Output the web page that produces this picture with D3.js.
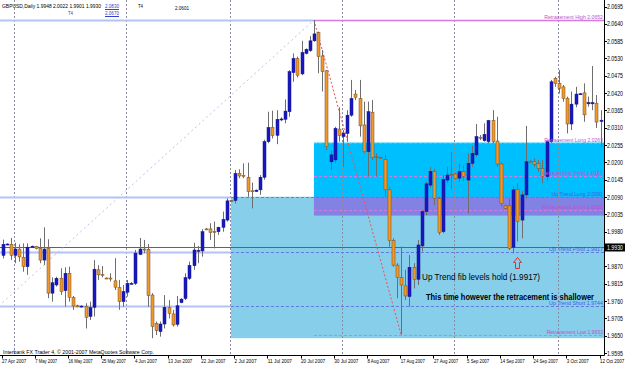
<!DOCTYPE html>
<html>
<head>
<meta charset="utf-8">
<script src="https://cdn.jsdelivr.net/npm/d3@7"></script>
<style>
  body { margin: 0; background: #fff; }
  svg { display: block; }
  text { font-family: "Liberation Sans", Arial, sans-serif; }
</style>
</head>
<body>
<svg width="625" height="365"></svg>
<script>
// Daily bars (MT4 also prints a short Sunday bar)
const dates = [
  "2007-04-27","2007-04-29","2007-04-30","2007-05-01","2007-05-02","2007-05-03","2007-05-04","2007-05-06",
  "2007-05-07","2007-05-08","2007-05-09","2007-05-10","2007-05-11","2007-05-13","2007-05-14","2007-05-15",
  "2007-05-16","2007-05-17","2007-05-18","2007-05-20","2007-05-21","2007-05-22","2007-05-23","2007-05-24",
  "2007-05-25","2007-05-27","2007-05-28","2007-05-29","2007-05-30","2007-05-31","2007-06-01","2007-06-03",
  "2007-06-04","2007-06-05","2007-06-06","2007-06-07","2007-06-08","2007-06-10","2007-06-11","2007-06-12",
  "2007-06-13","2007-06-14","2007-06-15","2007-06-17","2007-06-18","2007-06-19","2007-06-20","2007-06-21",
  "2007-06-22","2007-06-24","2007-06-25","2007-06-26","2007-06-27","2007-06-28","2007-06-29","2007-07-01",
  "2007-07-02","2007-07-03","2007-07-04","2007-07-05","2007-07-06","2007-07-08","2007-07-09","2007-07-10",
  "2007-07-11","2007-07-12","2007-07-13","2007-07-15","2007-07-16","2007-07-17","2007-07-18","2007-07-19",
  "2007-07-20","2007-07-22","2007-07-23","2007-07-24","2007-07-25","2007-07-26","2007-07-27","2007-07-29",
  "2007-07-30","2007-07-31","2007-08-01","2007-08-02","2007-08-03","2007-08-05","2007-08-06","2007-08-07",
  "2007-08-08","2007-08-09","2007-08-10","2007-08-12","2007-08-13","2007-08-14","2007-08-15","2007-08-16",
  "2007-08-17","2007-08-19","2007-08-20","2007-08-21","2007-08-22","2007-08-23","2007-08-24","2007-08-26",
  "2007-08-27","2007-08-28","2007-08-29","2007-08-30","2007-08-31","2007-09-02","2007-09-03","2007-09-04",
  "2007-09-05","2007-09-06","2007-09-07","2007-09-09","2007-09-10","2007-09-11","2007-09-12","2007-09-13",
  "2007-09-14","2007-09-16","2007-09-17","2007-09-18","2007-09-19","2007-09-20","2007-09-21","2007-09-23",
  "2007-09-24","2007-09-25","2007-09-26","2007-09-27","2007-09-28","2007-09-30","2007-10-01","2007-10-02",
  "2007-10-03","2007-10-04","2007-10-05","2007-10-07","2007-10-08","2007-10-09","2007-10-10","2007-10-11",
  "2007-10-12"
];
const opens = [
  1.9905,1.9940,1.9940,1.9905,1.9925,1.9899,1.9869,1.9933,1.9933,1.9927,1.9890,1.9927,1.9785,1.9811,1.9832,1.9793,
  1.9848,1.9771,1.9745,1.9743,1.9742,1.9711,1.9740,1.9859,1.9844,1.9833,1.9833,1.9824,1.9803,1.9758,1.9788,1.9815,
  1.9816,1.9908,1.9925,1.9924,1.9779,1.9689,1.9663,1.9687,1.9739,1.9719,1.9686,1.9755,1.9768,1.9832,1.9872,1.9920,
  1.9919,1.9989,1.9989,1.9981,1.9980,1.9994,2.0017,2.0079,2.0079,2.0165,2.0159,2.0152,2.0110,2.0108,2.0113,2.0153,
  2.0266,2.0311,2.0286,2.0337,2.0337,2.0361,2.0485,2.0530,2.0481,2.0546,2.0555,2.0586,2.0612,2.0538,2.0491,2.0202,
  2.0208,2.0306,2.0282,2.0292,2.0350,2.0417,2.0403,2.0319,2.0234,2.0358,2.0219,2.0215,2.0210,2.0113,1.9952,1.9874,
  1.9835,1.9808,1.9774,1.9867,1.9829,1.9935,2.0044,2.0128,2.0172,2.0086,1.9980,2.0144,2.0161,2.0163,2.0150,2.0171,
  2.0144,2.0197,2.0224,2.0280,2.0269,2.0266,2.0333,2.0268,2.0195,2.0062,2.0062,1.9931,2.0115,2.0017,2.0097,2.0204,
  2.0202,2.0197,2.0181,2.0155,2.0266,2.0467,2.0451,2.0440,2.0403,2.0322,2.0385,2.0417,2.0421,2.0386,2.0386,2.0388,
  2.0330
];
const highs = [
  1.9955,1.9943,1.9960,1.9945,1.9940,1.9943,1.9943,1.9936,1.9935,1.9959,1.9994,1.9956,1.9835,1.9837,1.9864,1.9867,
  1.9869,1.9776,1.9748,1.9746,1.9753,1.9758,1.9890,1.9874,1.9871,1.9835,1.9848,1.9896,1.9827,1.9811,1.9827,1.9820,
  1.9922,1.9960,1.9954,1.9941,1.9785,1.9695,1.9695,1.9779,1.9763,1.9732,1.9776,1.9769,1.9848,1.9885,1.9945,1.9935,
  1.9988,1.9992,2.0007,2.0012,1.9996,2.0044,2.0086,2.0080,2.0176,2.0178,2.0197,2.0199,2.0136,2.0114,2.0160,2.0272,
  2.0361,2.0364,2.0366,2.0343,2.0400,2.0493,2.0546,2.0536,2.0586,2.0562,2.0601,2.0652,2.0615,2.0557,2.0493,2.0239,
  2.0313,2.0375,2.0303,2.0366,2.0462,2.0430,2.0462,2.0393,2.0393,2.0398,2.0229,2.0218,2.0224,2.0123,1.9959,1.9880,
  1.9933,1.9859,1.9906,1.9880,1.9954,2.0049,2.0139,2.0186,2.0180,2.0091,2.0160,2.0186,2.0234,2.0166,2.0197,2.0190,
  2.0229,2.0252,2.0322,2.0287,2.0324,2.0335,2.0366,2.0345,2.0200,2.0066,2.0086,2.0123,2.0134,2.0110,2.0316,2.0207,
  2.0213,2.0208,2.0208,2.0270,2.0462,2.0472,2.0493,2.0446,2.0409,2.0425,2.0440,2.0420,2.0451,2.0409,2.0506,2.0414,
  2.0366
];
const lows = [
  1.9895,1.9937,1.9890,1.9880,1.9885,1.9853,1.9843,1.9931,1.9924,1.9880,1.9874,1.9769,1.9758,1.9806,1.9779,1.9742,
  1.9758,1.9732,1.9740,1.9740,1.9673,1.9700,1.9711,1.9827,1.9835,1.9830,1.9822,1.9795,1.9732,1.9742,1.9774,1.9813,
  1.9811,1.9906,1.9912,1.9742,1.9642,1.9652,1.9647,1.9673,1.9705,1.9679,1.9679,1.9753,1.9763,1.9827,1.9859,1.9880,
  1.9901,1.9985,1.9954,1.9927,1.9970,1.9980,2.0012,2.0074,2.0070,2.0150,2.0150,2.0091,2.0054,2.0106,2.0097,2.0145,
  2.0261,2.0276,2.0258,2.0331,2.0324,2.0345,2.0456,2.0470,2.0477,2.0543,2.0551,2.0583,2.0483,2.0425,2.0239,2.0176,
  2.0197,2.0266,2.0186,2.0266,2.0345,2.0398,2.0282,2.0229,2.0155,2.0208,2.0155,2.0211,2.0091,1.9933,1.9869,1.9769,
  1.9653,1.9763,1.9742,1.9800,1.9811,1.9917,2.0033,2.0120,2.0065,1.9970,1.9975,2.0134,2.0113,2.0146,2.0139,2.0140,
  2.0038,2.0186,2.0218,2.0271,2.0266,2.0261,2.0261,2.0186,2.0060,2.0050,1.9922,1.9911,1.9949,1.9959,2.0086,2.0200,
  2.0186,2.0170,2.0134,2.0140,2.0261,2.0440,2.0419,2.0393,2.0292,2.0303,2.0375,2.0414,2.0329,2.0377,2.0366,2.0309,
  2.0249
];
const closes = [
  1.9940,1.9941,1.9905,1.9925,1.9900,1.9869,1.9931,1.9934,1.9926,1.9890,1.9925,1.9785,1.9818,1.9832,1.9790,1.9848,
  1.9772,1.9744,1.9743,1.9744,1.9708,1.9739,1.9861,1.9843,1.9843,1.9832,1.9831,1.9804,1.9758,1.9790,1.9816,1.9816,
  1.9912,1.9925,1.9924,1.9777,1.9679,1.9666,1.9687,1.9740,1.9721,1.9684,1.9745,1.9766,1.9834,1.9873,1.9922,1.9921,
  1.9980,1.9988,1.9977,1.9980,1.9994,2.0019,2.0078,2.0076,2.0165,2.0157,2.0158,2.0107,2.0109,2.0112,2.0153,2.0266,
  2.0311,2.0285,2.0337,2.0338,2.0363,2.0488,2.0530,2.0477,2.0549,2.0559,2.0586,2.0608,2.0536,2.0488,2.0250,2.0224,
  2.0308,2.0285,2.0292,2.0350,2.0403,2.0407,2.0316,2.0234,2.0361,2.0216,2.0217,2.0214,2.0113,1.9952,1.9874,1.9835,
  1.9811,1.9776,1.9867,1.9829,1.9938,2.0044,2.0132,2.0171,2.0086,1.9977,2.0146,2.0160,2.0160,2.0149,2.0171,2.0155,
  2.0197,2.0229,2.0282,2.0279,2.0289,2.0333,2.0266,2.0195,2.0070,2.0054,1.9927,2.0113,2.0012,2.0097,2.0202,2.0203,
  2.0194,2.0181,2.0155,2.0266,2.0456,2.0451,2.0435,2.0403,2.0322,2.0385,2.0417,2.0418,2.0351,2.0390,2.0390,2.0328,
  2.0334
];

// price scale ticks, date labels every 8 bars, month separators
const priceTicks = [2.0695,2.0640,2.0585,2.0530,2.0475,2.0420,2.0365,2.0310,2.0255,2.0200,2.0145,2.0090,2.0035,1.9980,
  1.9870,1.9815,1.9760,1.9705,1.9650,1.9595];
const dateTickIdx = [0,8,16,24,32,40,48,56,64,72,80,88,96,104,112,120,128,136,144];
const separatorIdx = [3,30,55,82,109,134];
const bidPrice = 1.9930;

// fibonacci objects drawn on the chart
const upTrendLevels = [
  { name: "Up Trend Long", value: 2.0091 },
  { name: "Up Trend Pivot", value: 1.9917 },
  { name: "Up Trend Short", value: 1.9744 }
];
const retraceLevels = [
  { name: "Retracement High", value: 2.0652 },
  { name: "Retracement Long", value: 2.0263 },
  { name: "Retracement Pivot", value: 2.0157 },
  { name: "Retracement Short", value: 2.0050 },
  { name: "Retracement Low", value: 1.9653 }
];
const upTrendZone = { start: 55, top: 2.0091, bottom: 1.9642 };
const retraceZone = { start: 75, top: 2.0263, bottom: 2.0032 };
const upTrendLine = [{ i: 0, p: 1.9755 }, { i: 75, p: 2.0652 }];
const retraceLine = [{ i: 75, p: 2.0652 }, { i: 96, p: 1.9653 }];

const bars = dates.map((d, i) => ({
  i, date: d3.timeParse("%Y-%m-%d")(d),
  o: opens[i], h: highs[i], l: lows[i], c: closes[i]
}));

const svg = d3.select("svg");
const plotRight = 604, plotBottom = 355.5;

const x = d3.scaleLinear().domain([0, dates.length - 1]).range([2.5, 600.5]);
const y = d3.scaleLinear().domain([1.9595, 2.0695]).range([353, 6.5]);
const fmtDate = d3.timeFormat("%-d %b %Y");

svg.append("defs").append("clipPath").attr("id", "plot")
  .append("rect").attr("x", 0).attr("y", 0).attr("width", plotRight).attr("height", plotBottom);

const plot = svg.append("g").attr("clip-path", "url(#plot)");

// zones
plot.append("rect")
  .attr("x", x(upTrendZone.start)).attr("y", y(upTrendZone.top))
  .attr("width", plotRight - x(upTrendZone.start))
  .attr("height", y(upTrendZone.bottom) - y(upTrendZone.top))
  .attr("fill", "#87ceeb");
plot.append("rect")
  .attr("x", x(retraceZone.start)).attr("y", y(retraceZone.top))
  .attr("width", plotRight - x(retraceZone.start))
  .attr("height", y(retraceZone.bottom) - y(retraceZone.top))
  .attr("fill", "#00bfff");
// overlap of the two zones shows up purple
plot.append("rect")
  .attr("x", x(Math.max(upTrendZone.start, retraceZone.start)))
  .attr("y", y(Math.min(upTrendZone.top, retraceZone.top)))
  .attr("width", plotRight - x(Math.max(upTrendZone.start, retraceZone.start)))
  .attr("height", y(Math.max(upTrendZone.bottom, retraceZone.bottom)) - y(Math.min(upTrendZone.top, retraceZone.top)))
  .attr("fill", "#8282e4");

// month separators
plot.selectAll(".sep").data(separatorIdx).enter().append("line")
  .attr("x1", d => Math.round(x(d)) - 0.5).attr("x2", d => Math.round(x(d)) - 0.5)
  .attr("y1", 0).attr("y2", plotBottom)
  .attr("stroke", "#8c8ca0").attr("stroke-dasharray", "2,2");

// up trend levels: solid on the left, dashed inside the zone
const blueLevels = [{ value: retraceLevels[0].value, end: retraceZone.start }]
  .concat(upTrendLevels.map(d => ({ value: d.value, end: upTrendZone.start })));
plot.selectAll(".ulev").data(blueLevels).enter().append("line")
  .attr("x1", 0).attr("x2", d => x(d.end))
  .attr("y1", d => Math.round(y(d.value)) + 0.5).attr("y2", d => Math.round(y(d.value)) + 0.5)
  .attr("stroke", "#b4c2f4").attr("stroke-width", 2);
plot.selectAll(".ulevd").data(upTrendLevels).enter().append("line")
  .attr("x1", x(upTrendZone.start)).attr("x2", plotRight)
  .attr("y1", d => Math.round(y(d.value)) + 0.5).attr("y2", d => Math.round(y(d.value)) + 0.5)
  .attr("stroke", "#6478e0").attr("stroke-dasharray", "3,2");

// retracement levels
plot.selectAll(".rlev").data(retraceLevels).enter().append("line")
  .attr("x1", x(retraceZone.start)).attr("x2", plotRight)
  .attr("y1", d => Math.round(y(d.value)) + 0.5).attr("y2", d => Math.round(y(d.value)) + 0.5)
  .attr("stroke", "#d67ae0").attr("stroke-width", (d, i) => i === 0 ? 1.5 : 1)
  .attr("stroke-dasharray", (d, i) => i === 0 ? null : "3,2");

// bid line
plot.append("line")
  .attr("x1", 0).attr("x2", plotRight)
  .attr("y1", Math.round(y(bidPrice)) + 0.5).attr("y2", Math.round(y(bidPrice)) + 0.5)
  .attr("stroke", "#ff2020").attr("stroke-width", 1);

// trend lines
const tline = d3.line().x(d => x(d.i)).y(d => y(d.p));
plot.append("path").attr("d", tline(upTrendLine))
  .attr("fill", "none").attr("stroke", "#b8c4e8").attr("stroke-dasharray", "2,3");
plot.append("path").attr("d", tline(retraceLine))
  .attr("fill", "none").attr("stroke", "#f05050").attr("stroke-dasharray", "2,2");

// candles
const candle = plot.selectAll(".candle").data(bars).enter().append("g");
candle.append("line")
  .attr("x1", d => Math.round(x(d.i)) + 0.5).attr("x2", d => Math.round(x(d.i)) + 0.5)
  .attr("y1", d => y(d.h)).attr("y2", d => y(d.l))
  .attr("stroke", "#6e6e6e");
candle.append("rect")
  .attr("x", d => Math.round(x(d.i)) - 1)
  .attr("y", d => y(Math.max(d.o, d.c)))
  .attr("width", 3)
  .attr("height", d => Math.max(1, Math.abs(y(d.o) - y(d.c))))
  .attr("fill", d => d.c >= d.o ? "#1818c0" : "#f0982c")
  .attr("stroke", d => d.c >= d.o ? "#10108a" : "#7a4c18")
  .attr("stroke-width", 0.5);

// level labels
const lab = (t, v, col) => plot.append("text")
  .attr("x", 603).attr("y", Math.round(y(v)) - 1.5)
  .attr("text-anchor", "end").attr("font-size", 6).attr("fill", col)
  .attr("textLength", t.length * 2.45).attr("lengthAdjust", "spacingAndGlyphs")
  .text(t);
retraceLevels.forEach(d => lab(`${d.name}  ${d.value.toFixed(4)}`, d.value, "#c050d0"));
upTrendLevels.forEach(d => lab(`${d.name}  ${d.value.toFixed(4)}`, d.value, "#4060e0"));

// annotations
plot.append("text").attr("x", 422).attr("y", 280).attr("font-size", 9.5).attr("fill", "#000")
  .attr("textLength", 118).attr("lengthAdjust", "spacingAndGlyphs")
  .text("Up Trend fib levels hold (1.9917)");
plot.append("text").attr("x", 426).attr("y", 300).attr("font-size", 9.5).attr("font-weight", "bold").attr("fill", "#000")
  .attr("textLength", 168).attr("lengthAdjust", "spacingAndGlyphs")
  .text("This time however the retracement is shallower");
// red arrow under the Sep 18 low
const ax = Math.round(x(124)) + 0.5, ay = y(lows[123]) + 4;
plot.append("path")
  .attr("d", `M${ax},${ay} L${ax + 4},${ay + 5} L${ax + 2},${ay + 5} L${ax + 2},${ay + 11} L${ax - 2},${ay + 11} L${ax - 2},${ay + 5} L${ax - 4},${ay + 5} Z`)
  .attr("fill", "none").attr("stroke", "#e03030");

// header + copyright
const small = (t, px, py, len, col) => svg.append("text")
  .attr("x", px).attr("y", py).attr("font-size", 6).attr("fill", col || "#000")
  .attr("textLength", len).attr("lengthAdjust", "spacingAndGlyphs").text(t);
small("GBPUSD,Daily  1.9948 2.0022 1.9901 1.9930", 2, 8, 99);
small("2.0830", 105, 8, 14, "#3040d0");
small("T4", 68, 15, 5, "#3040d0");
small("2.0670", 105, 15, 14, "#3040d0");
small("T4", 138, 8, 5);
small("2.0601", 175, 10, 14);
svg.append("line").attr("x1", 105).attr("x2", 119).attr("y1", 9.5).attr("y2", 9.5).attr("stroke", "#3040d0");
svg.append("line").attr("x1", 105).attr("x2", 119).attr("y1", 16.5).attr("y2", 16.5).attr("stroke", "#3040d0");
small("Interbank FX Trader 4, \u00a9 2001-2007 MetaQuotes Software Corp.", 3, 354, 151);

// axes
svg.append("line").attr("x1", plotRight + 0.5).attr("x2", plotRight + 0.5).attr("y1", 0).attr("y2", plotBottom)
  .attr("stroke", "#000");
svg.append("line").attr("x1", 0).attr("x2", plotRight + 0.5).attr("y1", plotBottom).attr("y2", plotBottom)
  .attr("stroke", "#000");

const yAxis = svg.append("g");
yAxis.selectAll("line").data(priceTicks).enter().append("line")
  .attr("x1", plotRight).attr("x2", plotRight + 3)
  .attr("y1", d => Math.round(y(d)) + 0.5).attr("y2", d => Math.round(y(d)) + 0.5).attr("stroke", "#000");
yAxis.selectAll("text").data(priceTicks).enter().append("text")
  .attr("x", 607).attr("y", d => y(d) + 2.5).attr("font-size", 6.5)
  .attr("textLength", 16).attr("lengthAdjust", "spacingAndGlyphs")
  .text(d => d.toFixed(4));

// current bid label
svg.append("rect").attr("x", 605).attr("y", y(bidPrice) - 4).attr("width", 20).attr("height", 8).attr("fill", "#000");
svg.append("text").attr("x", 607).attr("y", y(bidPrice) + 2.5).attr("font-size", 6.5).attr("fill", "#fff")
  .attr("textLength", 16).attr("lengthAdjust", "spacingAndGlyphs").text(bidPrice.toFixed(4));

const xAxis = svg.append("g");
xAxis.selectAll("line").data(dateTickIdx).enter().append("line")
  .attr("x1", d => Math.round(x(d)) - 0.5).attr("x2", d => Math.round(x(d)) - 0.5)
  .attr("y1", plotBottom).attr("y2", plotBottom + 3).attr("stroke", "#000");
xAxis.selectAll("text").data(dateTickIdx).enter().append("text")
  .attr("x", d => x(d) - 0.5).attr("y", 362.5).attr("font-size", 6)
  .attr("textLength", d => fmtDate(bars[d].date).length * 2.2).attr("lengthAdjust", "spacingAndGlyphs")
  .text(d => fmtDate(bars[d].date));
</script>
</body>
</html>
